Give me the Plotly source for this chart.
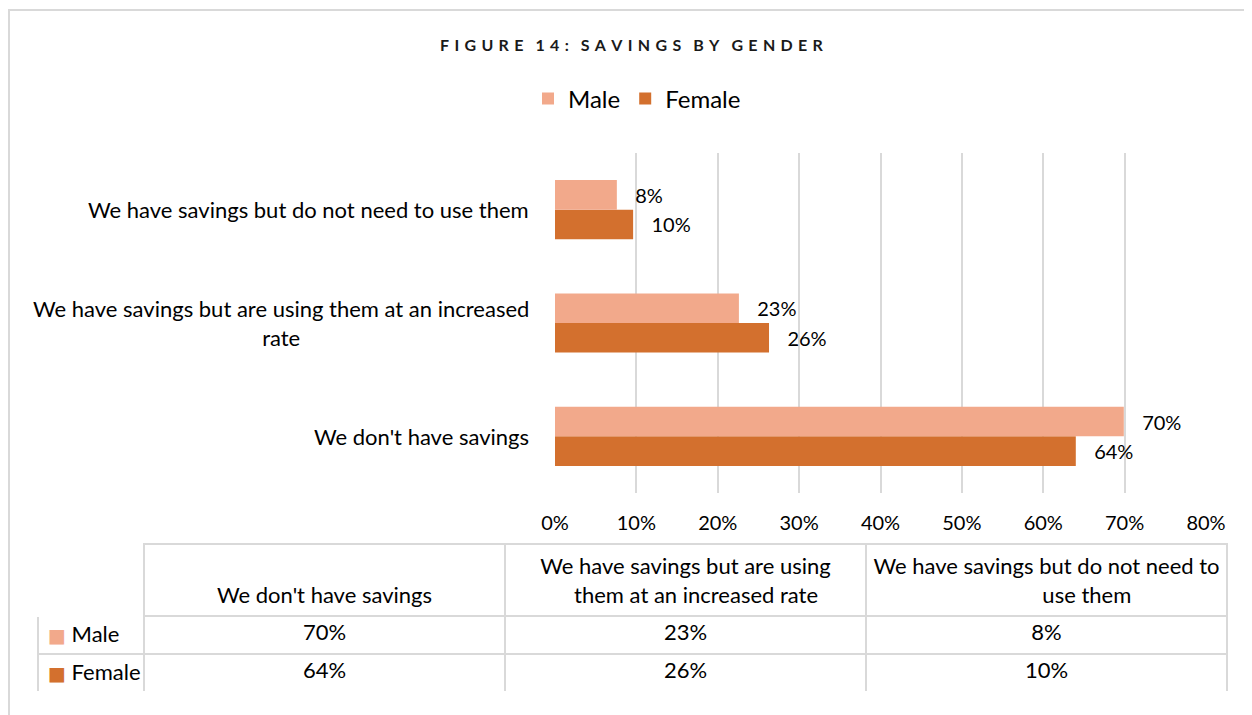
import plotly.graph_objects as go

categories = ["We don't have savings",
              "We have savings but are using them at an increased rate",
              "We have savings but do not need to use them"]
axis_labels = ["We don't have savings",
               "We have savings but are using them at an increased<br>rate",
               "We have savings but do not need to use them"]
NB = "\u00a0"
table_headers = ["", NB + "<br>We don't have savings",
                 "We have savings but are using<br>" + NB * 6 + "them at an increased rate",
                 "We have savings but do not need to<br>" + NB * 30 + "use them"]
series_names = ["Male", "Female"]
male = [69.9, 22.6, 7.6]
female = [64.0, 26.3, 9.6]
x_ticks = [0, 10, 20, 30, 40, 50, 60, 70, 80]

MALE_C = "#F2A98B"
FEMALE_C = "#D3702E"
GRID = "#D9D9D9"
FONT = "Lato, 'Open Sans', sans-serif"
W, H = 1252, 715
OFF = 8  # page body margin in the viewer


def px(x):
    return (x - OFF) / W


def py(y):
    return 1 - (y - OFF) / H


fig = go.Figure()
fig.add_trace(go.Bar(
    y=categories, x=female, name=series_names[1], orientation="h",
    marker=dict(color=FEMALE_C, line=dict(width=0)),
    texttemplate=NB * 3 + "%{x:.0f}%", textposition="outside",
    textfont=dict(size=20, color="#000000", family=FONT),
    cliponaxis=False, legendrank=2,
))
fig.add_trace(go.Bar(
    y=categories, x=male, name=series_names[0], orientation="h",
    marker=dict(color=MALE_C, line=dict(width=0)),
    texttemplate=NB * 3 + "%{x:.0f}%", textposition="outside",
    textfont=dict(size=20, color="#000000", family=FONT),
    cliponaxis=False, legendrank=1,
))

# data table under the chart
T_X0, HEAD_H, ROW_H = 38, 70, 38
BODY_TOP = 614
T_TOP = BODY_TOP - HEAD_H
T_BOT = BODY_TOP + 2 * ROW_H + 1
COLW = [106, 361, 361, 361]
cols = [["", ""]]
for i in range(len(categories)):
    cols.append([f"{male[i]:.0f}%", f"{female[i]:.0f}%"])

fig.add_trace(go.Table(
    domain=dict(x=[px(T_X0), px(T_X0 + sum(COLW))], y=[py(T_BOT), py(T_TOP)]),
    columnwidth=COLW,
    header=dict(values=table_headers, height=HEAD_H,
                align="center",
                fill=dict(color="white"),
                line=dict(color=["white", GRID, GRID, GRID], width=2),
                font=dict(size=22, color="#000000", family=FONT)),
    cells=dict(values=cols, height=ROW_H,
               align=["left", "center", "center", "center"],
               fill=dict(color="white"),
               line=dict(color=GRID, width=2),
               font=dict(size=22, color="#000000", family=FONT)),
))

# row labels with legend keys in the table's first column
for k, (n, c) in enumerate(zip(series_names, [MALE_C, FEMALE_C])):
    yc = BODY_TOP + ROW_H * (k + 0.5)
    fig.add_annotation(
        x=px(T_X0 + 8), y=py(yc), xref="paper", yref="paper",
        text=f"<span style='color:{c};font-family:DejaVu Sans;font-size:19px'>■</span> {n}",
        showarrow=False, xanchor="left", yanchor="middle",
        font=dict(size=22, color="#000000", family=FONT))

# category labels (centered multi-line, right edge at the axis)
for cat, lab in zip(categories, axis_labels):
    fig.add_annotation(x=px(531), xref="paper", y=cat, yref="y",
                       text=lab, showarrow=False, xanchor="right",
                       align="center",
                       font=dict(size=22, color="#000000", family=FONT))

title = "FIGURE 14: SAVINGS BY GENDER"
spaced = "\u2003".join("\u2004".join(w) for w in title.split(" "))
fig.add_annotation(
    x=px(632), y=py(45), xref="paper", yref="paper",
    text="<b>" + spaced + "</b>", yanchor="middle",
    showarrow=False, font=dict(size=16, color="#1a1a1a", family=FONT))

fig.add_shape(type="rect", xref="paper", yref="paper",
              x0=px(9), x1=1.05, y0=-0.05, y1=py(10),
              line=dict(color=GRID, width=2), fillcolor="rgba(0,0,0,0)",
              layer="below")

fig.update_layout(
    width=W, height=H,
    margin=dict(l=0, r=0, t=0, b=0, autoexpand=False),
    paper_bgcolor="white", plot_bgcolor="white",
    barmode="group", bargap=0.478, bargroupgap=0,
    showlegend=True,
    legend=dict(orientation="h", x=px(637), xanchor="center",
                y=py(99), yanchor="middle",
                font=dict(size=24, color="#000000", family=FONT),
                itemwidth=30, tracegroupgap=0),
    xaxis=dict(domain=[px(555), px(1206)], range=[0, 80],
               tickvals=x_ticks, ticktext=[f"{v}%" for v in x_ticks],
               showgrid=True, gridcolor=GRID, gridwidth=2,
               zeroline=False, showline=False, automargin=False,
               ticks="outside", ticklen=12, tickcolor="rgba(0,0,0,0)",
               tickfont=dict(size=20, color="#000000", family=FONT),
               anchor="y"),
    yaxis=dict(domain=[py(493), py(153)], showticklabels=False,
               showgrid=False, zeroline=False, showline=False,
               automargin=False,
               categoryorder="array", categoryarray=categories,
               range=[-0.5, 2.5]),
    font=dict(family=FONT),
)

fig.write_html("out.html")
